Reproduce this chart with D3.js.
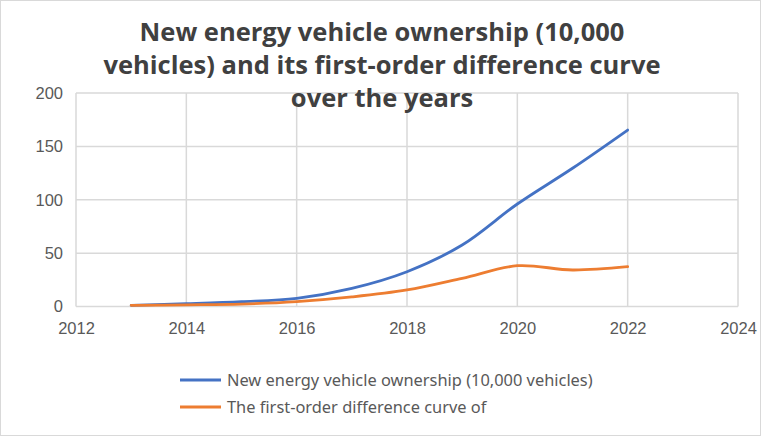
<!DOCTYPE html>
<html>
<head>
<meta charset="utf-8">
<script src="https://cdn.jsdelivr.net/npm/d3@7"></script>
<style>
  body { margin: 0; background: #fff; }
  svg { display: block; }
</style>
</head>
<body>
<script>
var years = [2013, 2014, 2015, 2016, 2017, 2018, 2019, 2020, 2021, 2022];
var ownership = [1.1, 2.6, 4.5, 7.7, 17, 32.6, 57.6, 96, 129.5, 165.3];
var difference = [1.1, 1.6, 2.3, 4.6, 9, 15.5, 26.4, 38.2, 34.2, 37.3];
var xTicks = [2012, 2014, 2016, 2018, 2020, 2022, 2024];
var yTicks = [0, 50, 100, 150, 200];
var seriesNames = ['New energy vehicle ownership (10,000 vehicles)', 'The first-order difference curve of'];
var titleLines = ['New energy vehicle ownership (10,000', 'vehicles) and its first-order difference curve', 'over the years'];

var width = 762, height = 437;
var svg = d3.select('body').append('svg')
    .attr('width', width)
    .attr('height', height);

svg.append('rect')
    .attr('x', 0.5).attr('y', 0.5)
    .attr('width', width - 2).attr('height', height - 2)
    .attr('fill', '#fff')
    .attr('stroke', '#d9d9d9');

var x = d3.scaleLinear().domain([2012, 2024]).range([76, 738]);
var y = d3.scaleLinear().domain([0, 200]).range([306.5, 93]);

// gridlines
svg.append('g').selectAll('line.h')
    .data(yTicks)
    .enter().append('line')
    .attr('x1', x(2012)).attr('x2', x(2024))
    .attr('y1', function (d) { return y(d); })
    .attr('y2', function (d) { return y(d); })
    .attr('stroke', '#d9d9d9').attr('stroke-width', 1.5);

svg.append('g').selectAll('line.v')
    .data(xTicks)
    .enter().append('line')
    .attr('x1', function (d) { return x(d); })
    .attr('x2', function (d) { return x(d); })
    .attr('y1', y(0)).attr('y2', y(200))
    .attr('stroke', '#d9d9d9').attr('stroke-width', 1.5);

// axis labels
var xAxis = d3.axisBottom(x).tickValues(xTicks).tickFormat(d3.format('d')).tickSize(0).tickPadding(16);
var yAxis = d3.axisLeft(y).tickValues(yTicks).tickSize(0).tickPadding(13);

var gx = svg.append('g').attr('transform', 'translate(0,' + y(0) + ')').call(xAxis);
var gy = svg.append('g').attr('transform', 'translate(' + x(2012) + ',0)').call(yAxis);
[gx, gy].forEach(function (g) {
    g.select('.domain').remove();
    g.selectAll('text')
        .attr('fill', '#595959')
        .style('font-family', '"Liberation Sans", Arial, sans-serif')
        .style('font-size', '16.5px');
});

// lines
var line = d3.line()
    .x(function (d, i) { return x(years[i]); })
    .y(function (d) { return y(d); })
    .curve(d3.curveCatmullRom.alpha(0.5));

var colors = ['#4472c4', '#ed7d31'];
[ownership, difference].forEach(function (s, i) {
    svg.append('path')
        .datum(s)
        .attr('d', line)
        .attr('fill', 'none')
        .attr('stroke', colors[i])
        .attr('stroke-width', 2.8)
        .attr('stroke-linecap', 'round');
});

// title
svg.append('g').selectAll('text')
    .data(titleLines)
    .enter().append('text')
    .attr('x', 382)
    .attr('y', function (d, i) { return 41 + i * 33; })
    .attr('text-anchor', 'middle')
    .attr('fill', '#404040')
    .style('font-family', '"Open Sans", "Noto Sans", sans-serif')
    .style('font-weight', 'bold')
    .style('font-size', '25.5px')
    .text(function (d) { return d; });

// legend
var legend = svg.append('g').selectAll('g')
    .data(seriesNames)
    .enter().append('g')
    .attr('transform', function (d, i) { return 'translate(180,' + (380 + i * 27) + ')'; });

legend.append('line')
    .attr('x1', 0).attr('x2', 41)
    .attr('stroke', function (d, i) { return colors[i]; })
    .attr('stroke-width', 2.8);

legend.append('text')
    .attr('x', 47)
    .attr('dy', '0.35em')
    .attr('fill', '#595959')
    .style('font-family', '"Noto Sans", sans-serif')
    .style('font-size', '16.4px')
    .text(function (d) { return d; });
</script>
</body>
</html>
